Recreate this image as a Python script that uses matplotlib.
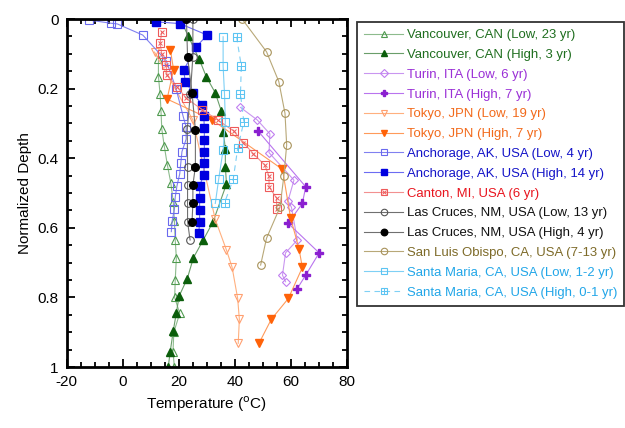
import matplotlib
matplotlib.use('Agg')
import matplotlib.pyplot as plt
from matplotlib.legend_handler import HandlerTuple

plt.rcParams['font.family'] = ['Liberation Sans', 'DejaVu Sans']
plt.rcParams['axes.unicode_minus'] = False

# temperature (C) and normalized depth for each profile
van_low_t = [12.7, 12.7, 13.3, 13.6, 13.9, 14.8, 15.9, 17.1, 18.0, 18.4, 18.7, 19.1, 18.7, 18.5, 20.3, 18.2, 17.9, 18.4]
van_low_d = [0.116, 0.166, 0.216, 0.263, 0.316, 0.366, 0.42, 0.47, 0.525, 0.58, 0.635, 0.687, 0.75, 0.80, 0.846, 0.90, 0.956, 1.0]
van_high_t = [20.5, 23.4, 27.3, 29.8, 33.0, 35.1, 35.9, 36.6, 36.6, 37.0, 32.2, 28.7, 25.2, 23.0, 20.1, 19.1, 18.0, 16.9, 16.2]
van_high_d = [0.0, 0.05, 0.116, 0.166, 0.212, 0.263, 0.324, 0.374, 0.424, 0.474, 0.583, 0.635, 0.686, 0.746, 0.796, 0.844, 0.896, 0.956, 1.0]
tur_low_t = [42.0, 48.0, 52.5, 52.2, 61.1, 59.0, 60.2, 62.3, 58.1, 57.0, 58.1]
tur_low_d = [0.254, 0.29, 0.33, 0.384, 0.463, 0.522, 0.541, 0.635, 0.672, 0.736, 0.755]
tur_high_t = [48.2, 65.3, 64.1, 59.0, 70.1, 65.3, 62.1]
tur_high_d = [0.321, 0.482, 0.53, 0.587, 0.672, 0.736, 0.777]
tok_low_t = [11.3, 25.0, 33.0, 37.0, 39.0, 41.0, 41.6, 41.2]
tok_low_d = [0.095, 0.29, 0.576, 0.664, 0.713, 0.803, 0.863, 0.932]
tok_high_t = [17.0, 18.1, 15.8, 31.9, 57.0, 59.9, 62.9, 64.1, 59.1, 53.0, 48.6]
tok_high_d = [0.09, 0.145, 0.23, 0.29, 0.432, 0.572, 0.66, 0.714, 0.803, 0.863, 0.932]
anc_low_t = [-12.0, -4.3, -2.0, 7.1, 15.5, 19.0, 21.5, 22.6, 22.6, 21.1, 20.7, 20.3, 19.3, 18.7, 18.4, 17.6, 17.3]
anc_low_d = [0.003, 0.012, 0.014, 0.046, 0.12, 0.2, 0.279, 0.31, 0.345, 0.381, 0.413, 0.445, 0.48, 0.512, 0.547, 0.58, 0.611]
anc_high_t = [11.9, 20.3, 30.1, 26.2, 21.7, 22.3, 25.0, 28.3, 28.9, 29.1, 29.1, 29.1, 29.1, 28.9, 27.4, 27.4, 27.4, 27.4, 27.1]
anc_high_d = [0.008, 0.013, 0.046, 0.08, 0.147, 0.18, 0.212, 0.247, 0.28, 0.314, 0.348, 0.381, 0.414, 0.447, 0.48, 0.515, 0.549, 0.582, 0.616]
can_t = [13.9, 13.3, 13.9, 15.5, 15.7, 19.3, 22.7, 28.3, 33.9, 39.6, 43.0, 46.6, 50.6, 52.2, 52.2, 54.9, 54.9]
can_d = [0.036, 0.07, 0.1, 0.132, 0.161, 0.194, 0.228, 0.26, 0.29, 0.322, 0.355, 0.387, 0.419, 0.451, 0.482, 0.515, 0.547]
lc_low_t = [25.0, 25.0, 24.1, 23.0, 23.1, 23.1, 23.1, 23.1, 24.0]
lc_low_d = [0.0, 0.108, 0.214, 0.316, 0.424, 0.477, 0.53, 0.582, 0.635]
lc_high_t = [22.7, 23.1, 24.7, 25.9, 25.9, 25.0, 25.0, 24.7]
lc_high_d = [0.0, 0.108, 0.212, 0.318, 0.424, 0.477, 0.53, 0.582]
slo_t = [42.6, 51.3, 55.7, 57.9, 58.5, 57.5, 56.1, 51.3, 49.2]
slo_d = [0.0, 0.094, 0.18, 0.271, 0.362, 0.451, 0.541, 0.63, 0.707]
sm_low_t = [35.8, 35.8, 36.3, 36.6, 35.8, 34.2, 33.0]
sm_low_d = [0.051, 0.135, 0.216, 0.295, 0.376, 0.461, 0.53]
sm_high_t = [40.6, 42.3, 42.0, 43.2, 41.0, 39.4, 36.3]
sm_high_d = [0.051, 0.135, 0.216, 0.295, 0.372, 0.461, 0.528]

labels = [
    "Vancouver, CAN (Low, 23 yr)",
    "Vancouver, CAN (High, 3 yr)",
    "Turin, ITA (Low, 6 yr)",
    "Turin, ITA (High, 7 yr)",
    "Tokyo, JPN (Low, 19 yr)",
    "Tokyo, JPN (High, 7 yr)",
    "Anchorage, AK, USA (Low, 4 yr)",
    "Anchorage, AK, USA (High, 14 yr)",
    "Canton, MI, USA (6 yr)",
    "Las Cruces, NM, USA (Low, 13 yr)",
    "Las Cruces, NM, USA (High, 4 yr)",
    "San Luis Obispo, CA, USA (7-13 yr)",
    "Santa Maria, CA, USA (Low, 1-2 yr)",
    "Santa Maria, CA, USA (High, 0-1 yr)",
]
text_colors = ['#1f6e1f', '#1f6e1f', '#9a2fd6', '#9a2fd6', '#f26a1b', '#f26a1b',
               '#1414c8', '#1414c8', '#e8141e', '#111111', '#111111', '#7d6a28',
               '#22a6e8', '#22a6e8']

fig = plt.figure(figsize=(6.25, 4.28), dpi=100)
ax = fig.add_axes([0.107, 0.1425, 0.448, 0.813])

lw = 0.8
ms = 5.5
handles = []

h, = ax.plot(van_low_t, van_low_d, '-', color='#8dbb8d', lw=lw, marker='^', ms=ms,
             mfc='none', mec='#4f9a4f', mew=0.8)
handles.append(h)
h, = ax.plot(van_high_t, van_high_d, '-', color='#6a9e6a', lw=lw, marker='^', ms=ms,
             mfc='#0b5e0b', mec='#0b5e0b')
handles.append(h)
h, = ax.plot(tur_low_t, tur_low_d, '-', color='#c996f0', lw=lw, marker='D', ms=4.5,
             mfc='none', mec='#c07ef0', mew=0.8)
handles.append(h)
h, = ax.plot(tur_high_t, tur_high_d, '-', color='#b974ee', lw=lw, marker='P', ms=ms,
             mfc='#8a1fd0', mec='#8a1fd0')
handles.append(h)
h, = ax.plot(tok_low_t, tok_low_d, '-', color='#ffb07f', lw=lw, marker='v', ms=ms,
             mfc='none', mec='#ffa070', mew=0.8)
handles.append(h)
h, = ax.plot(tok_high_t, tok_high_d, '-', color='#ff9a5a', lw=lw, marker='v', ms=ms,
             mfc='#ff6208', mec='#ff6208')
handles.append(h)
h, = ax.plot(anc_low_t, anc_low_d, '-', color='#8080f0', lw=lw, marker='s', ms=ms,
             mfc='none', mec='#6a6aee', mew=0.8)
handles.append(h)
h, = ax.plot(anc_high_t, anc_high_d, '-', color='#6c6cf2', lw=lw, marker='s', ms=ms,
             mfc='#0000e0', mec='#0000e0')
handles.append(h)
h1, = ax.plot(can_t, can_d, '-', color='#f29090', lw=lw, marker='s', ms=ms,
              mfc='none', mec='#ee5a5a', mew=0.8)
h2, = ax.plot(can_t, can_d, 'none', marker='x', ms=3.5, mec='#ee5a5a', mew=0.7)
handles.append((h1, h2))
h, = ax.plot(lc_low_t, lc_low_d, '-', color='#707070', lw=lw, marker='o', ms=ms,
             mfc='none', mec='#555555', mew=0.8)
handles.append(h)
h, = ax.plot(lc_high_t, lc_high_d, '-', color='#707070', lw=lw, marker='o', ms=ms,
             mfc='black', mec='black')
handles.append(h)
h, = ax.plot(slo_t, slo_d, '-', color='#b8a878', lw=lw, marker='o', ms=ms,
             mfc='none', mec='#a8925a', mew=0.8)
handles.append(h)
h, = ax.plot(sm_low_t, sm_low_d, '-', color='#7fd0f5', lw=lw, marker='s', ms=ms,
             mfc='none', mec='#5cc4f2', mew=0.8)
handles.append(h)
h1, = ax.plot(sm_high_t, sm_high_d, linestyle=(0, (5, 4)), color='#7fd0f5', lw=lw,
              marker='s', ms=ms, mfc='none', mec='#5cc4f2', mew=0.8)
h2, = ax.plot(sm_high_t, sm_high_d, 'none', marker='+', ms=ms, mec='#5cc4f2', mew=0.7)
handles.append((h1, h2))

ax.set_xlim(-20, 80)
ax.set_ylim(1, 0)
ax.set_xticks(range(-20, 81, 20))
ax.set_xticks(range(-20, 81, 5), minor=True)
ax.set_yticks([0, 0.2, 0.4, 0.6, 0.8, 1])
ax.set_yticklabels(['0', '0.2', '0.4', '0.6', '0.8', '1'])
ax.set_yticks([i * 0.05 for i in range(21)], minor=True)
ax.tick_params(which='both', direction='in', top=True, right=True, labelsize=11, width=1.3)
ax.tick_params(which='major', length=6, pad=6)
ax.tick_params(which='minor', length=3.5)
for s in ax.spines.values():
    s.set_linewidth(2)

ax.set_xlabel('Temperature ($^{\\rm o}$C)', fontsize=11)
ax.set_ylabel('Normalized Depth', fontsize=11)

leg = fig.legend(handles, labels, loc='upper left', bbox_to_anchor=(0.571, 0.949),
                 borderaxespad=0, fontsize=9.45, frameon=True, fancybox=False,
                 handlelength=3.0, labelspacing=0.58, borderpad=0.55, handletextpad=0.25,
                 markerscale=0.85,
                 handler_map={tuple: HandlerTuple(ndivide=1)},
                 labelcolor=text_colors)
leg.get_frame().set_edgecolor('black')
leg.get_frame().set_linewidth(1.3)

fig.savefig('out.png', dpi=100)
